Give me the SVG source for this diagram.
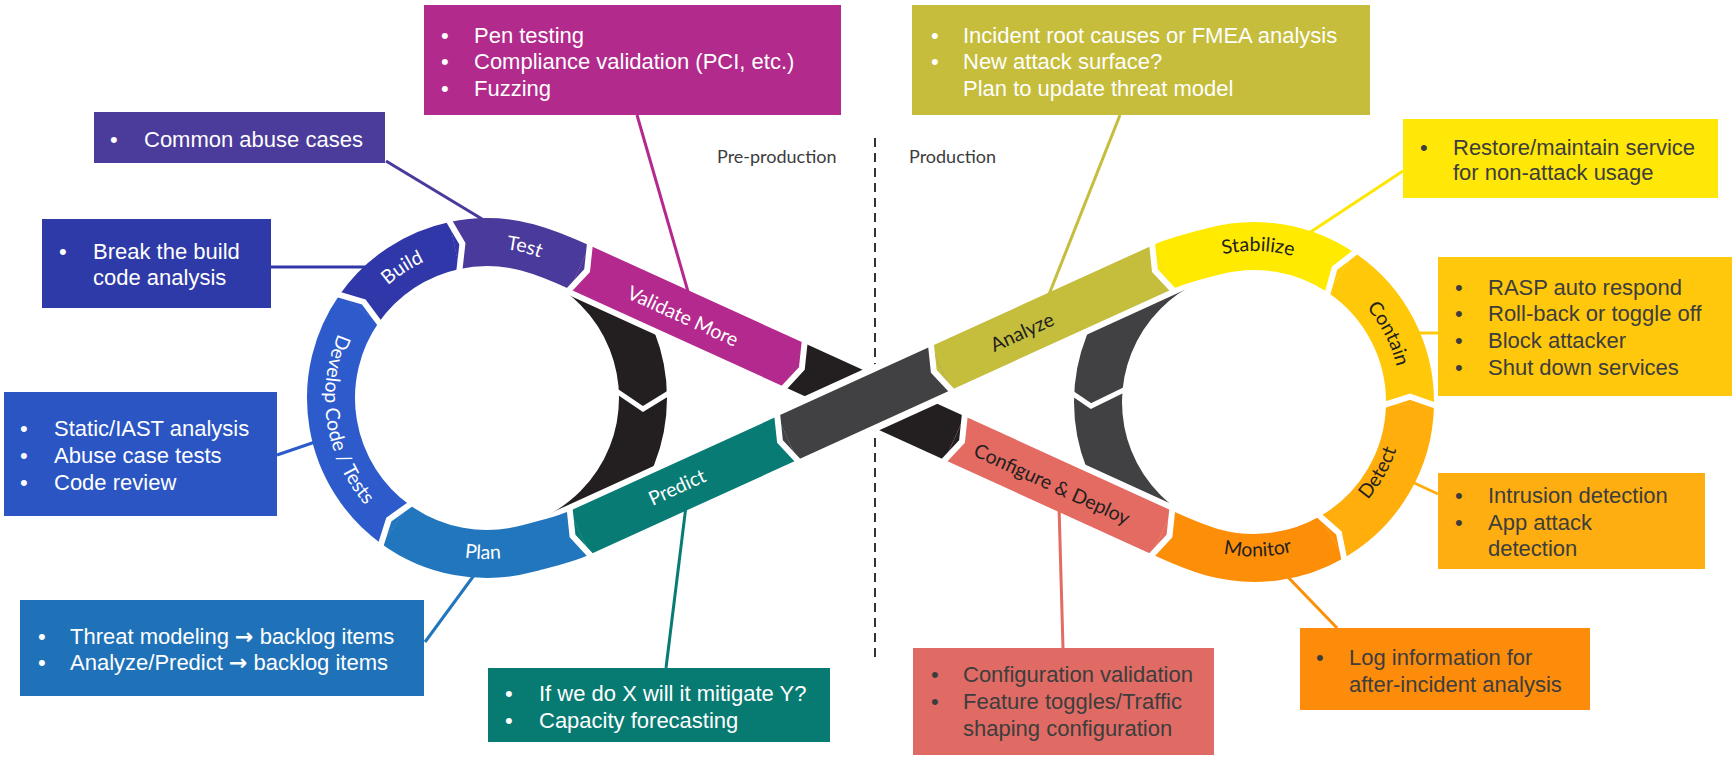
<svg xmlns="http://www.w3.org/2000/svg" width="1735" height="759" viewBox="0 0 1735 759">
<defs>
<style>
.bx{font-family:"Liberation Sans",Arial,sans-serif;font-size:22px}
.arr{font-family:"DejaVu Sans",sans-serif;font-size:22px;font-weight:bold}
.w{fill:#ffffff}
.d{fill:#3d3d3d}
.seg{fill:none;stroke-width:48;stroke-linecap:butt}
.lbl{font-family:Lato,"Open Sans",sans-serif;font-size:19.5px}
.lw{fill:#ffffff}
.ld{fill:#231f20}
.gap{fill:none;stroke:#ffffff;stroke-width:6;stroke-linejoin:miter}
.lead{fill:none;stroke-width:3}
.phase{font-family:Lato,"Open Sans",sans-serif;font-size:18px;fill:#3c3c3c}
</style>
<clipPath id="clipL"><polygon points="798.66,400 540,282.12 540,517.88"/></clipPath>
<clipPath id="clipR"><polygon points="943.34,400 1201,282.58 1201,517.42"/></clipPath>
<path id="pTest" d="M 471.32 248.82 A 150 150 0 0 1 570.88 273.64"/>
<path id="pBuild" d="M 367.20 307.73 A 150 150 0 0 1 453.26 251.84"/>
<path id="pDevelop" d="M 355.94 302.78 A 162 162 0 0 0 391.78 529.06"/>
<path id="pPlan" d="M 402.88 535.28 A 161 161 0 0 0 563.82 539.49"/>
<path id="pStab" d="M 1181.95 269.30 A 151 151 0 0 1 1332.90 273.25"/>
<path id="pContain" d="M 1334.28 278.86 A 147 147 0 0 1 1400.79 409.95"/>
<path id="pDetect" d="M 1329.90 531.38 A 150 150 0 0 0 1404 400.95"/>
<path id="pMonitor" d="M 1180.28 537.78 A 154.5 154.5 0 0 0 1334.73 533.73"/>
</defs>

<g id="divider">
<line x1="875" y1="138" x2="875" y2="661" stroke="#333333" stroke-width="2" stroke-dasharray="9 6"/>
<text class="phase" x="717" y="163">Pre-production</text>
<text class="phase" x="909" y="163">Production</text>
</g>

<g id="connectors" class="lead">
<line x1="386" y1="161" x2="487" y2="222" stroke="#4A3A9B"/>
<line x1="271" y1="267" x2="368" y2="267" stroke="#3038A9"/>
<line x1="277" y1="455" x2="318" y2="441" stroke="#2D5BCB"/>
<line x1="425" y1="642" x2="475" y2="574" stroke="#2176BE"/>
<line x1="666" y1="668" x2="686" y2="506" stroke="#087C74"/>
<line x1="637" y1="115" x2="689" y2="295" stroke="#B4298E"/>
<line x1="1120" y1="115" x2="1048" y2="297" stroke="#C5BD3C"/>
<line x1="1403" y1="171" x2="1309" y2="233" stroke="#FFE600"/>
<line x1="1438" y1="333" x2="1415" y2="333" stroke="#FFC90A"/>
<line x1="1438" y1="494" x2="1410" y2="481" stroke="#FFAE0B"/>
<line x1="1337" y1="628" x2="1285" y2="574" stroke="#FD8E08"/>
<line x1="1063" y1="648" x2="1059" y2="506" stroke="#E36B62"/>
</g>

<g id="box-validate-more" class="bx">
<rect x="424" y="5" width="417" height="110" fill="#B12A8C"/>
<text class="w" x="441" y="43">•</text><text class="w" x="474" y="43">Pen testing</text>
<text class="w" x="441" y="69">•</text><text class="w" x="474" y="69">Compliance validation (PCI, etc.)</text>
<text class="w" x="441" y="96">•</text><text class="w" x="474" y="96">Fuzzing</text>
</g>
<g id="box-analyze" class="bx">
<rect x="912" y="5" width="458" height="110" fill="#C5BD3B"/>
<text class="w" x="931" y="43">•</text><text class="w" x="963" y="43">Incident root causes or FMEA analysis</text>
<text class="w" x="931" y="69">•</text><text class="w" x="963" y="69">New attack surface?</text>
<text class="w" x="963" y="96">Plan to update threat model</text>
</g>
<g id="box-test" class="bx">
<rect x="94" y="112" width="291" height="51" fill="#4B3B9B"/>
<text class="w" x="110" y="147">•</text><text class="w" x="144" y="147">Common abuse cases</text>
</g>
<g id="box-build" class="bx">
<rect x="42" y="219" width="229" height="89" fill="#2E3AA7"/>
<text class="w" x="59" y="259">•</text><text class="w" x="93" y="259">Break the build</text>
<text class="w" x="93" y="285">code analysis</text>
</g>
<g id="box-develop" class="bx">
<rect x="4" y="392" width="273" height="124" fill="#2A55C3"/>
<text class="w" x="20" y="436">•</text><text class="w" x="54" y="436">Static/IAST analysis</text>
<text class="w" x="20" y="463">•</text><text class="w" x="54" y="463">Abuse case tests</text>
<text class="w" x="20" y="490">•</text><text class="w" x="54" y="490">Code review</text>
</g>
<g id="box-plan" class="bx">
<rect x="20" y="600" width="404" height="96" fill="#1F72B8"/>
<text class="w" x="38" y="644">•</text><text class="w" x="70" y="644">Threat modeling <tspan class="arr">→</tspan> backlog items</text>
<text class="w" x="38" y="670">•</text><text class="w" x="70" y="670">Analyze/Predict <tspan class="arr">→</tspan> backlog items</text>
</g>
<g id="box-predict" class="bx">
<rect x="488" y="668" width="342" height="74" fill="#077A72"/>
<text class="w" x="505" y="701">•</text><text class="w" x="539" y="701">If we do X will it mitigate Y?</text>
<text class="w" x="505" y="728">•</text><text class="w" x="539" y="728">Capacity forecasting</text>
</g>
<g id="box-stabilize" class="bx">
<rect x="1403" y="119" width="315" height="79" fill="#FFE707"/>
<text class="d" x="1420" y="155">•</text><text class="d" x="1453" y="155">Restore/maintain service</text>
<text class="d" x="1453" y="180">for non-attack usage</text>
</g>
<g id="box-contain" class="bx">
<rect x="1438" y="257" width="294" height="139" fill="#FFC80C"/>
<text class="d" x="1455" y="295">•</text><text class="d" x="1488" y="295">RASP auto respond</text>
<text class="d" x="1455" y="321">•</text><text class="d" x="1488" y="321">Roll-back or toggle off</text>
<text class="d" x="1455" y="348">•</text><text class="d" x="1488" y="348">Block attacker</text>
<text class="d" x="1455" y="375">•</text><text class="d" x="1488" y="375">Shut down services</text>
</g>
<g id="box-detect" class="bx">
<rect x="1438" y="473" width="267" height="96" fill="#FEAE10"/>
<text class="d" x="1455" y="503">•</text><text class="d" x="1488" y="503">Intrusion detection</text>
<text class="d" x="1455" y="530">•</text><text class="d" x="1488" y="530">App attack</text>
<text class="d" x="1488" y="556">detection</text>
</g>
<g id="box-monitor" class="bx">
<rect x="1300" y="628" width="290" height="82" fill="#FD8C0B"/>
<text class="d" x="1316" y="665">•</text><text class="d" x="1349" y="665">Log information for</text>
<text class="d" x="1349" y="692">after-incident analysis</text>
</g>
<g id="box-configure" class="bx">
<rect x="913" y="648" width="301" height="107" fill="#E06B64"/>
<text class="d" x="931" y="682">•</text><text class="d" x="963" y="682">Configuration validation</text>
<text class="d" x="931" y="709">•</text><text class="d" x="963" y="709">Feature toggles/Traffic</text>
<text class="d" x="963" y="736">shaping configuration</text>
</g>

<g id="crescents" fill="none" stroke-width="48">
<circle cx="487" cy="398" r="156" stroke="#231F20" clip-path="url(#clipL)"/>
<circle cx="1254" cy="402" r="156" stroke="#414042" clip-path="url(#clipR)"/>
<polyline class="gap" points="612,388 643,409 682,385" style="stroke-width:5"/>
<polyline class="gap" points="1060,385 1091,406 1130,387" style="stroke-width:5"/>
</g>

<g id="seg-plan"><path class="seg" stroke="#2176BE" d="M 579.81 532.70 C 563.43 540.16 544.77 544.03 527.38 548.69 A 156 156 0 0 1 395.30 524.21"/></g>
<g id="seg-develop"><path class="seg" stroke="#2D5BCB" d="M 395.30 524.21 A 156 156 0 0 1 359.21 308.52"/></g>
<g id="seg-build"><path class="seg" stroke="#3038A9" d="M 359.21 308.52 A 156 156 0 0 1 454.57 245.41"/></g>
<g id="seg-test"><path class="seg" stroke="#4A3A9B" d="M 454.57 245.41 A 156 156 0 0 1 527.38 247.31 C 544.77 251.97 563.43 259.84 579.81 267.30"/></g>
<g id="seg-validate"><path class="seg" stroke="#B4298E" d="M 579.81 267.30 L 794.56 365.17"/></g>
<g id="seg-release"><path class="seg" stroke="#231F20" d="M 794.56 365.17 L 954.72 438.15"/></g>
<g id="seg-configure"><path class="seg" stroke="#E36B62" d="M 954.72 438.15 L 1162.19 532.70"/></g>
<g id="seg-monitor"><path class="seg" stroke="#FD8E08" d="M 1162.19 532.70 C 1178.57 540.16 1196.23 548.03 1213.62 552.69 A 156 156 0 0 0 1332 537.10"/></g>
<g id="seg-detect"><path class="seg" stroke="#FFAE0B" d="M 1332 537.10 A 156 156 0 0 0 1409.98 404.72"/></g>
<g id="seg-contain"><path class="seg" stroke="#FFC90A" d="M 1409.98 404.72 A 156 156 0 0 0 1341.23 272.67"/></g>
<g id="seg-stabilize"><path class="seg" stroke="#FFEA00" d="M 1341.23 272.67 A 156 156 0 0 0 1213.62 251.31 C 1196.23 255.97 1178.57 259.84 1162.19 267.30"/></g>
<g id="seg-analyze"><path class="seg" stroke="#C5BD3C" d="M 1162.19 267.30 L 941.07 368.07"/></g>
<g id="seg-predict"><path class="seg" stroke="#087C74" d="M 787.28 438.15 L 579.81 532.70"/></g>

<g id="joints">
<polygon fill="#087C74" points="589.76,554.54 572.53,536.02 569.86,510.86"/>
<polygon fill="#2176BE" points="381.19,543.63 388.83,519.51 409.41,504.79"/>
<polygon fill="#2D5BCB" points="339.55,294.75 363.80,301.97 378.87,322.29"/>
<polygon fill="#3038A9" points="449.58,221.93 462.40,243.75 459.56,268.89"/>
<polygon fill="#4A3A9B" points="589.76,245.46 587.09,270.62 569.86,289.14"/>
<polygon fill="#B4298E" points="804.51,343.33 801.84,368.49 784.61,387.01"/>
<polygon fill="#231F20" points="964.67,416.31 962.0,441.47 944.77,459.99"/>
<polygon fill="#E36B62" points="1172.14,510.86 1169.47,536.02 1152.24,554.54"/>
<polygon fill="#FD8E08" points="1344,557.88 1338.93,533.10 1320,516.32"/>
<polygon fill="#FFAE0B" points="1433.98,405.14 1410.12,396.72 1385.98,404.30"/>
<polygon fill="#FFC90A" points="1354.65,252.77 1334.60,268.20 1327.81,292.57"/>
<polygon fill="#FFEA00" points="1172.14,289.14 1154.91,270.62 1152.24,245.46"/>
</g>

<g id="seg-feedback">
<path fill="none" stroke="#ffffff" stroke-width="62" d="M 941.07 368.07 L 787.28 438.15"/>
<path class="seg" stroke="#414042" d="M 941.07 368.07 L 787.28 438.15"/>
<polygon fill="#C5BD3C" points="951.02,389.91 933.79,371.39 931.12,346.23"/>
<polygon fill="#414042" points="797.23,459.99 780.0,441.47 777.33,416.31"/>
</g>

<g id="gaps" class="gap">
<polyline points="592.63,557.63 572.53,536.02 569.41,506.67"/>
<polyline points="379.92,547.64 388.83,519.51 412.84,502.34"/>
<polyline points="335.51,293.55 363.80,301.97 381.39,325.67"/>
<polyline points="447.45,218.30 462.40,243.75 459.09,273.08"/>
<polyline points="590.21,241.27 587.09,270.62 566.99,292.23"/>
<polyline points="804.96,339.14 801.84,368.49 781.74,390.10"/>
<polyline points="965.12,412.12 962.0,441.47 941.9,463.08"/>
<polyline points="1172.59,506.67 1169.47,536.02 1149.37,557.63"/>
<polyline points="1344.85,562.02 1338.93,533.10 1316.85,513.52"/>
<polyline points="1437.96,406.54 1410.12,396.72 1381.96,405.56"/>
<polyline points="1357.99,250.20 1334.60,268.20 1326.67,296.62"/>
<polyline points="1175.01,292.23 1154.91,270.62 1151.79,241.27"/>
<polyline points="953.89,393.0 933.79,371.39 930.67,342.04"/>
<polyline points="800.10,463.08 780.0,441.47 776.88,412.12"/>
</g>

<g id="labels" class="lbl">
<text class="lw" text-anchor="middle"><textPath href="#pTest" startOffset="50%">Test</textPath></text>
<text class="lw" text-anchor="middle"><textPath href="#pBuild" startOffset="50%">Build</textPath></text>
<text class="lw" text-anchor="middle"><textPath href="#pDevelop" startOffset="50%">Develop Code / Tests</textPath></text>
<text class="lw" text-anchor="middle"><textPath href="#pPlan" startOffset="50%">Plan</textPath></text>
<text class="ld" text-anchor="middle"><textPath href="#pStab" startOffset="50%">Stabilize</textPath></text>
<text class="ld" text-anchor="middle"><textPath href="#pContain" startOffset="50%">Contain</textPath></text>
<text class="ld" text-anchor="middle"><textPath href="#pDetect" startOffset="50%">Detect</textPath></text>
<text class="ld" text-anchor="middle"><textPath href="#pMonitor" startOffset="50%">Monitor</textPath></text>
<text class="lw" text-anchor="middle" transform="translate(683,316) rotate(24.5)" y="7">Validate More</text>
<text class="lw" text-anchor="middle" transform="translate(677,487) rotate(-24.5)" y="7">Predict</text>
<text class="ld" text-anchor="middle" transform="translate(1022,332) rotate(-24.5)" y="7">Analyze</text>
<text class="ld" text-anchor="middle" transform="translate(1052,484) rotate(24.5)" y="7">Configure &amp; Deploy</text>
</g>
</svg>
